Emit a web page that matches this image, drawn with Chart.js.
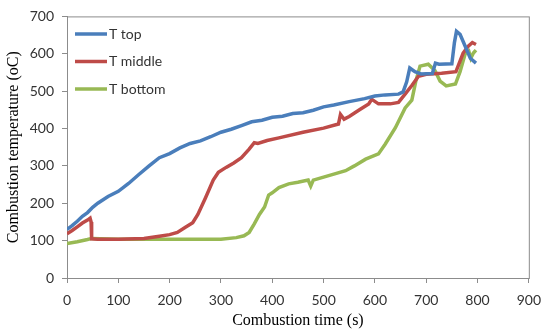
<!DOCTYPE html>
<html>
<head>
<meta charset="utf-8">
<script src="https://cdn.jsdelivr.net/npm/chart.js@4.4.0/dist/chart.umd.min.js"></script>
<style>
  html, body { margin: 0; padding: 0; background: #fff; }
  #wrap { width: 550px; height: 333px; position: relative; }
</style>
</head>
<body>
<div id="wrap"><canvas id="tempChart"></canvas></div>
<script>
// series labels
const seriesNames = ["T top", "T middle", "T bottom"];
const seriesColors = ["#4A7EBB", "#BE4B48", "#98B954"];

// T top
const timeTop = [0, 10, 20, 30, 40, 50, 60, 80, 100, 120, 140, 160, 180, 200, 220, 240, 260, 280, 300, 320, 340, 360, 380, 400, 420, 440, 460, 480, 500, 520, 550, 580, 600, 620, 646, 655, 662, 668, 678, 690, 712, 718, 725, 750, 755, 759, 766, 776, 786, 797];
const tempTop = [130, 140, 152, 165, 175, 189, 200, 218, 232, 253, 277, 300, 322, 333, 348, 360, 367, 378, 390, 398, 408, 418, 422, 430, 433, 440, 442, 449, 458, 463, 472, 480, 487, 490, 492, 498, 525, 562, 552, 546, 547, 575, 572, 573, 630, 660, 652, 620, 588, 575];

// T middle
const timeMid = [0, 10, 20, 30, 40, 45, 47, 48, 60, 100, 150, 180, 200, 215, 230, 245, 255, 270, 285, 295, 310, 325, 340, 355, 365, 372, 390, 413, 460, 500, 529, 533, 540, 550, 570, 588, 594, 607, 630, 646, 660, 672, 685, 700, 730, 758, 772, 782, 790, 797];
const tempMid = [118, 127, 137, 147, 155, 160, 150, 105, 104, 104, 106, 112, 116, 122, 135, 148, 170, 215, 262, 283, 296, 308, 322, 345, 362, 360, 368, 375, 390, 401, 412, 438, 425, 432, 450, 466, 478, 466, 466, 470, 494, 515, 540, 545, 548, 552, 602, 620, 630, 625];

// T bottom
const timeBot = [0, 20, 40, 48, 100, 200, 300, 330, 345, 355, 365, 375, 385, 393, 400, 413, 432, 450, 470, 475, 480, 500, 520, 543, 560, 582, 607, 620, 640, 659, 672, 680, 688, 704, 717, 727, 739, 757, 766, 776, 783, 787, 792, 797];
const tempBot = [92, 97, 103, 106, 104, 104, 104, 108, 113, 122, 145, 170, 190, 222, 228, 242, 252, 256, 262, 246, 262, 270, 278, 287, 300, 318, 332, 358, 402, 455, 476, 528, 567, 572, 555, 527, 514, 519, 552, 600, 607, 588, 602, 610];

// axes
const xTicks = [0, 100, 200, 300, 400, 500, 600, 700, 800, 900];
const yTicks = [0, 100, 200, 300, 400, 500, 600, 700];
const xTitle = "Combustion time (s)";
const yTitle = "Combustion temperature (oC)";

function toPoints(xs, ys) {
  return xs.map((x, i) => ({ x: x, y: ys[i] }));
}

const allTimes = [timeTop, timeMid, timeBot];
const allTemps = [tempTop, tempMid, tempBot];

const datasets = seriesNames.map((name, i) => ({
  label: name,
  data: toPoints(allTimes[i], allTemps[i]),
  borderColor: seriesColors[i],
  backgroundColor: seriesColors[i],
  borderWidth: 3.5,
  pointRadius: 0,
  tension: 0,
  fill: false
}));

// legend inside the plot, top-left, like excel
const insideLegend = {
  id: "insideLegend",
  afterDraw(chart) {
    const ctx = chart.ctx;
    ctx.save();
    ctx.font = "14px Lato";
    ctx.textBaseline = "middle";
    ctx.fillStyle = "#333";
    chart.data.datasets.forEach((ds, i) => {
      const y = 34 + i * 27.5;
      ctx.strokeStyle = ds.borderColor;
      ctx.lineWidth = 3.5;
      ctx.beginPath();
      ctx.moveTo(75, y);
      ctx.lineTo(107, y);
      ctx.stroke();
      ctx.fillText(ds.label, 109, y);
    });
    ctx.restore();
  }
};

// gray frame round the plot area
const plotFrame = {
  id: "plotFrame",
  beforeDatasetsDraw(chart) {
    const a = chart.chartArea;
    const ctx = chart.ctx;
    ctx.save();
    ctx.strokeStyle = "#8c8c8c";
    ctx.lineWidth = 1;
    ctx.strokeRect(a.left + 0.5, a.top + 0.5, a.right - a.left, a.bottom - a.top);
    ctx.restore();
  }
};

const ctx = document.getElementById("tempChart").getContext("2d");
new Chart(ctx, {
  type: "line",
  data: { datasets: datasets },
  plugins: [plotFrame, insideLegend],
  options: {
    responsive: true,
    maintainAspectRatio: false,
    animation: false,
    layout: { padding: { top: 15, right: 19, left: 0, bottom: 0 } },
    plugins: {
      legend: { display: false },
      tooltip: { enabled: false }
    },
    scales: {
      x: {
        type: "linear",
        min: 0,
        max: 900,
        afterBuildTicks: (axis) => { axis.ticks = xTicks.map(v => ({ value: v })); },
        afterFit: (axis) => { axis.height = 55; },
        border: { color: "#8c8c8c" },
        grid: { drawOnChartArea: false, drawTicks: true, tickLength: 5, color: "#8c8c8c" },
        ticks: { color: "#333", font: { family: "Lato", size: 14 }, padding: 9, maxRotation: 0 },
        title: { display: true, text: xTitle, color: "#000", font: { family: "Liberation Serif", size: 16 }, padding: { top: 0, bottom: 3 } }
      },
      y: {
        min: 0,
        max: 700,
        afterBuildTicks: (axis) => { axis.ticks = yTicks.map(v => ({ value: v })); },
        afterFit: (axis) => { axis.width = 67; },
        border: { color: "#8c8c8c" },
        grid: { drawOnChartArea: false, drawTicks: true, tickLength: 5, color: "#8c8c8c" },
        ticks: { color: "#333", font: { family: "Lato", size: 14 }, padding: 8 },
        title: { display: true, text: yTitle, color: "#000", font: { family: "Liberation Serif", size: 16 }, padding: { top: 4, bottom: 0 } }
      }
    }
  }
});
</script>
</body>
</html>
